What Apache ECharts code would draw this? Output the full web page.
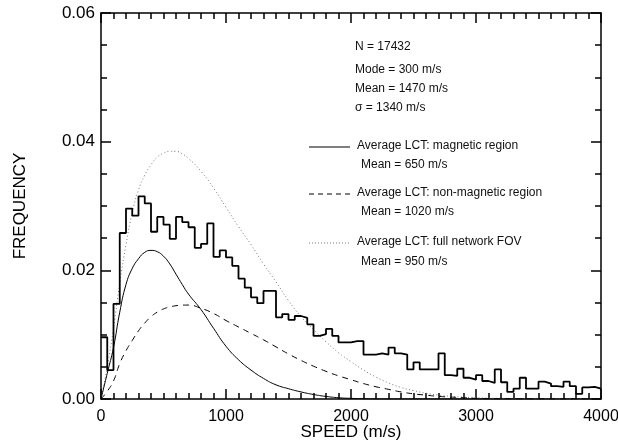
<!DOCTYPE html>
<html><head><meta charset="utf-8">
<script src="https://cdn.jsdelivr.net/npm/echarts@6/dist/echarts.min.js"></script>
<style>html,body{margin:0;padding:0;background:#fff}#c{width:618px;height:445px}</style>
</head><body><div id="c"></div>
<script>
// ---- data ----
const binWidth = 50; // m/s
const histValues = [
0.0096,0.0045,0.0148,0.0258,0.0296,0.0285,0.0315,0.0304,0.0260,0.0283,
0.0271,0.0249,0.0283,0.0275,0.0267,0.0235,0.0241,0.0273,0.0221,0.0231,
0.0220,0.0207,0.0187,0.0173,0.0158,0.0149,0.0168,0.0168,0.0127,0.0132,
0.0123,0.0129,0.0126,0.0116,0.0098,0.0101,0.0109,0.0098,0.0088,0.0088,
0.0090,0.0090,0.0069,0.0069,0.0071,0.0069,0.0080,0.0071,0.0069,0.0046,
0.0057,0.0046,0.0046,0.0046,0.0071,0.0037,0.0036,0.0047,0.0033,0.0030,
0.0037,0.0028,0.0025,0.0046,0.0026,0.0011,0.0016,0.0033,0.0016,0.0016,
0.0027,0.0024,0.0020,0.0019,0.0027,0.0020,0.0008,0.0018,0.0019,0.0016];

const curveSpeeds = [0,50,100,150,200,250,300,350,400,450,500,550,600,650,700,800,900,1000,1100,1200,1300,1400,1500,1600,1700,1800,1900,2000,2100,2200,2300,2400,2500,2600,2700,2800,2900,3000,3200,4000];
const magneticCurve = [0,0.0040,0.0080,0.0135,0.0178,0.0203,0.0218,0.0228,0.0231,0.0229,0.0222,0.0210,0.0194,0.0178,0.0163,0.0139,0.0110,0.0082,0.0061,0.0045,0.0032,0.0022,0.0016,0.0011,0.0007,0.0004,0.0002,0.0001,0.00005,0,0,0,0,0,0,0,0,0,0,0];
const nonMagneticCurve = [0,0.0012,0.0028,0.0055,0.0075,0.0091,0.0106,0.0118,0.0128,0.0135,0.0140,0.0143,0.0145,0.0146,0.0146,0.0141,0.0133,0.0122,0.0112,0.0102,0.0092,0.0081,0.0070,0.0060,0.0051,0.0043,0.0036,0.0030,0.0024,0.0019,0.0015,0.0011,0.0008,0.0006,0.0004,0.0003,0.0002,0.0001,0.00003,0];
const fullFovCurve = [0,0.0050,0.0110,0.0180,0.0240,0.0290,0.0325,0.0348,0.0364,0.0376,0.0382,0.0385,0.0385,0.0381,0.0374,0.0354,0.0328,0.0298,0.0268,0.0240,0.0210,0.0182,0.0153,0.0128,0.0108,0.0089,0.0072,0.0058,0.0045,0.0034,0.0025,0.0018,0.0013,0.0009,0.0006,0.0004,0.0003,0.0002,0.0001,0];

const xTicks = [0,1000,2000,3000,4000];
const yTicks = [0.00,0.02,0.04,0.06];
const statsLines = ['N = 17432','Mode = 300 m/s','Mean = 1470 m/s','\u03c3 = 1340 m/s'];
const legendNames = ['Average LCT: magnetic region','Average LCT: non-magnetic region','Average LCT: full network FOV'];
const legendMeans = ['Mean = 650 m/s','Mean = 1020 m/s','Mean = 950 m/s'];

// ---- build ----
const histData = histValues.map((v,i)=>[i*binWidth, v]);
histData.push([histValues.length*binWidth, histValues[histValues.length-1]]);
const pair = arr => curveSpeeds.map((s,i)=>[s, arr[i]]);

const FONT = 'Liberation Sans, Arial, Helvetica, sans-serif';
const chart = echarts.init(document.getElementById('c'), null, {renderer:'canvas'});
const tickStyle = {color:'#000', width:1.5};
function mkAxis(extra, split){
  return Object.assign({
    type:'value',
    axisLine:{show:true, onZero:false, lineStyle:{color:'#000', width:1.5}},
    axisTick:{show:true, inside:true, length:10, lineStyle:tickStyle},
    minorTick:{show:true, splitNumber:split, length:6, lineStyle:tickStyle},
    splitLine:{show:false}, minorSplitLine:{show:false}
  }, extra);
}
const txt = {fontFamily:FONT, fontSize:12, fill:'#111'};
const lx0 = 309, lx1 = 350, sx = 355, tx = 357;
const rows = {n:48, mode:71, mean:90, sig:109, l1:147, m1:166, l2:194, m2:213, l3:243, m3:263};
const xFmt = v => String(v);
const yFmt = v => v.toFixed(2);

chart.setOption({
  animation:false,
  grid:{left:101, right:17, top:13, bottom:46, outerBoundsMode:'none', containLabel:false},
  xAxis:[
    mkAxis({min:0, max:4000, interval:1000, position:'bottom',
      name:'SPEED (m/s)', nameLocation:'middle', nameGap:25, nameMoveOverlap:false,
      nameTextStyle:{fontFamily:FONT, fontSize:17, color:'#000', verticalAlign:'top'},
      axisLabel:{fontFamily:FONT, fontSize:16, color:'#000', margin:10, formatter:xFmt}}, 10),
    mkAxis({min:0, max:4000, interval:1000, position:'top', axisLabel:{show:false}}, 10)
  ],
  yAxis:[
    mkAxis({min:0, max:0.06, interval:0.02, position:'left',
      name:'FREQUENCY', nameLocation:'middle', nameGap:72, nameRotate:90, nameMoveOverlap:false,
      nameTextStyle:{fontFamily:FONT, fontSize:17, color:'#000'},
      axisLabel:{fontFamily:FONT, fontSize:17, color:'#000', margin:6, formatter:yFmt}}, 4),
    mkAxis({min:0, max:0.06, interval:0.02, position:'right', axisLabel:{show:false}}, 4)
  ],
  series:[
    {type:'line', data:pair(fullFovCurve), smooth:true, showSymbol:false,
     lineStyle:{color:'#777', width:1, type:[1,2.5]}},
    {type:'line', data:pair(nonMagneticCurve), smooth:true, showSymbol:false,
     lineStyle:{color:'#000', width:1, type:[6,5]}},
    {type:'line', data:pair(magneticCurve), smooth:true, showSymbol:false,
     lineStyle:{color:'#000', width:1}},
    {type:'line', data:histData, step:'end', showSymbol:false,
     lineStyle:{color:'#000', width:1.8}}
  ],
  graphic:[
    {type:'text', left:sx, top:rows.n-7, style:Object.assign({text:statsLines[0]}, txt)},
    {type:'text', left:sx, top:rows.mode-7, style:Object.assign({text:statsLines[1]}, txt)},
    {type:'text', left:sx, top:rows.mean-7, style:Object.assign({text:statsLines[2]}, txt)},
    {type:'text', left:sx, top:rows.sig-7, style:Object.assign({text:statsLines[3]}, txt)},
    {type:'line', shape:{x1:lx0,y1:rows.l1,x2:lx1,y2:rows.l1}, style:{stroke:'#000', lineWidth:1}},
    {type:'text', left:tx, top:rows.l1-7, style:Object.assign({text:legendNames[0]}, txt)},
    {type:'text', left:tx+4, top:rows.m1-7, style:Object.assign({text:legendMeans[0]}, txt)},
    {type:'line', shape:{x1:lx0,y1:rows.l2,x2:lx1,y2:rows.l2}, style:{stroke:'#000', lineWidth:1, lineDash:[5,4]}},
    {type:'text', left:tx, top:rows.l2-7, style:Object.assign({text:legendNames[1]}, txt)},
    {type:'text', left:tx+4, top:rows.m2-7, style:Object.assign({text:legendMeans[1]}, txt)},
    {type:'line', shape:{x1:lx0,y1:rows.l3,x2:lx1,y2:rows.l3}, style:{stroke:'#777', lineWidth:1, lineDash:[1,2]}},
    {type:'text', left:tx, top:rows.l3-7, style:Object.assign({text:legendNames[2]}, txt)},
    {type:'text', left:tx+4, top:rows.m3-7, style:Object.assign({text:legendMeans[2]}, txt)}
  ]
});
</script></body></html>
